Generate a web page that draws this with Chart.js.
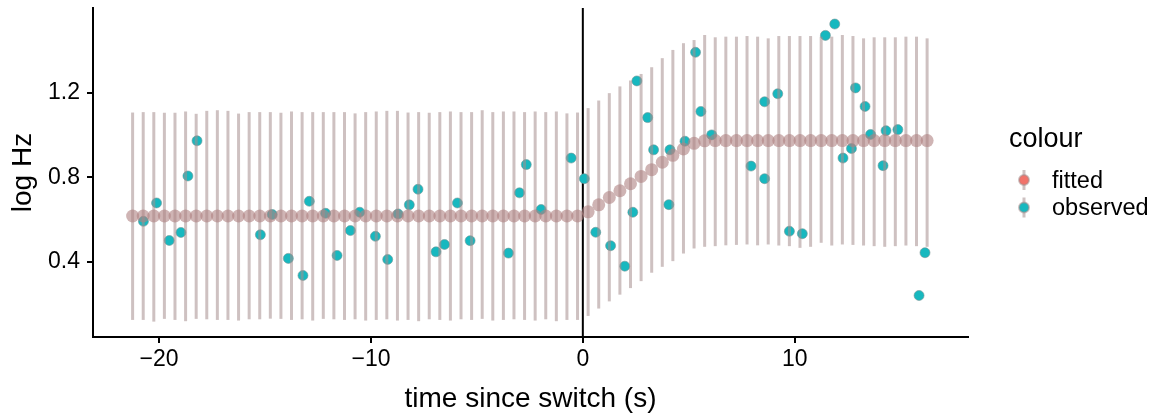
<!DOCTYPE html>
<html>
<head>
<meta charset="utf-8">
<script src="https://cdn.jsdelivr.net/npm/chart.js@4/dist/chart.umd.min.js"></script>
<style>
  html, body { margin: 0; padding: 0; background: #fff; }
  #wrap { position: relative; width: 1159px; height: 416px; }
</style>
</head>
<body>
<div id="wrap"><canvas id="switch" width="1159" height="416"></canvas></div>
<script>
// fitted model: time grid, fitted value, interval bounds
const fitT = [-21.25,-20.75,-20.25,-19.75,-19.25,-18.75,-18.25,-17.75,-17.25,-16.75,-16.25,-15.75,-15.25,-14.75,-14.25,-13.75,-13.25,-12.75,-12.25,-11.75,-11.25,-10.75,-10.25,-9.75,-9.25,-8.75,-8.25,-7.75,-7.25,-6.75,-6.25,-5.75,-5.25,-4.75,-4.25,-3.75,-3.25,-2.75,-2.25,-1.75,-1.25,-0.75,-0.25,
  0.25,0.75,1.25,1.75,2.25,2.75,3.25,3.75,4.25,4.75,5.25,5.75,
  6.25,6.75,7.25,7.75,8.25,8.75,9.25,9.75,10.25,10.75,11.25,11.75,12.25,12.75,13.25,13.75,14.25,14.75,15.25,15.75,16.25];
const fitV = [0.617,0.617,0.617,0.617,0.617,0.617,0.617,0.617,0.617,0.617,0.617,0.617,0.617,0.617,0.617,0.617,0.617,0.617,0.617,0.617,0.617,0.617,0.617,0.617,0.617,0.617,0.617,0.617,0.617,0.617,0.617,0.617,0.617,0.617,0.617,0.617,0.617,0.617,0.617,0.617,0.617,0.617,0.617,
  0.637,0.670,0.705,0.737,0.770,0.805,0.837,0.872,0.905,0.935,0.962,0.974,
  0.975,0.975,0.975,0.975,0.975,0.975,0.975,0.975,0.975,0.975,0.975,0.975,0.975,0.975,0.975,0.975,0.975,0.975,0.975,0.975,0.975];
const fitUpper = [1.108,1.110,1.110,1.107,1.107,1.113,1.102,1.116,1.119,1.116,1.103,1.110,1.110,1.110,1.107,1.113,1.110,1.110,1.110,1.110,1.110,1.104,1.110,1.113,1.116,1.116,1.108,1.110,1.107,1.110,1.113,1.110,1.110,1.119,1.110,1.113,1.113,1.110,1.113,1.110,1.113,1.104,1.108,
  1.129,1.165,1.200,1.232,1.260,1.291,1.323,1.366,1.405,1.437,1.452,1.476,
  1.465,1.468,1.468,1.471,1.468,1.460,1.471,1.471,1.471,1.471,1.468,1.468,1.476,1.471,1.460,1.465,1.465,1.465,1.468,1.468,1.460];
const fitLower = [0.124,0.124,0.116,0.129,0.124,0.118,0.129,0.127,0.124,0.124,0.121,0.127,0.127,0.130,0.129,0.124,0.127,0.121,0.129,0.127,0.124,0.127,0.121,0.124,0.127,0.121,0.124,0.118,0.127,0.124,0.121,0.127,0.124,0.129,0.121,0.124,0.127,0.124,0.121,0.127,0.118,0.124,0.124,
  0.143,0.178,0.212,0.244,0.275,0.308,0.348,0.376,0.403,0.439,0.463,0.471,
  0.474,0.478,0.480,0.482,0.478,0.482,0.477,0.474,0.466,0.471,0.490,0.477,0.482,0.480,0.477,0.474,0.471,0.474,0.477,0.474,0.471];

// observed data
const obsT = [-20.74,-20.12,-19.52,-18.97,-18.64,-18.21,-15.22,-14.66,-13.90,-13.21,-12.91,-12.14,-11.60,-10.97,-10.53,-9.79,-9.21,-8.72,-8.19,-7.78,-6.93,-6.53,-5.92,-5.32,-3.51,-2.99,-2.67,-1.97,-0.55,0.07,0.61,1.31,1.98,2.36,2.55,3.06,3.34,4.06,4.11,4.82,5.32,5.57,6.08,7.94,8.58,8.58,9.20,9.75,10.36,11.45,11.89,12.28,12.68,12.87,13.32,13.58,14.17,14.31,14.87,15.87,16.15];
const obsV = [0.592,0.679,0.501,0.539,0.807,0.974,0.528,0.624,0.416,0.335,0.687,0.630,0.430,0.548,0.635,0.521,0.411,0.627,0.670,0.744,0.447,0.482,0.679,0.500,0.441,0.727,0.861,0.648,0.892,0.794,0.540,0.476,0.379,0.635,1.258,1.084,0.931,0.671,0.931,0.972,1.394,1.113,1.002,0.854,1.159,0.794,1.197,0.545,0.533,1.474,1.528,0.892,0.937,1.225,1.137,1.004,0.856,1.022,1.027,0.240,0.443];

const xTicks = [-20, -10, 0, 10];
const yTicks = [0.4, 0.8, 1.2];
const legendTitle = 'colour';

const FONT = '"Liberation Sans", Arial, Helvetica, sans-serif';
const barColour = 'rgba(165,142,142,0.55)';
const fitColour = 'rgba(175,130,130,0.6)';
const obsColour = '#17b8bf';
const keyColours = { fitted: '#f1726a', observed: '#17b8bf' };

// vertical line at the switch
const switchLine = {
  id: 'switchLine',
  beforeDatasetsDraw(chart) {
    const { ctx, chartArea, scales } = chart;
    const x = scales.x.getPixelForValue(0);
    ctx.save();
    ctx.strokeStyle = '#000';
    ctx.lineWidth = 2;
    ctx.beginPath();
    ctx.moveTo(x, chartArea.top);
    ctx.lineTo(x, chartArea.bottom);
    ctx.stroke();
    ctx.restore();
  }
};

// interval bars drawn over the observed points, under the fitted points
const errorBars = {
  id: 'errorBars',
  afterDatasetDraw(chart, args) {
    if (args.index !== 1) return;
    const { ctx, scales } = chart;
    ctx.save();
    ctx.strokeStyle = barColour;
    ctx.lineWidth = 3;
    fitT.forEach((t, i) => {
      const x = scales.x.getPixelForValue(t);
      ctx.beginPath();
      ctx.moveTo(x, scales.y.getPixelForValue(fitLower[i]));
      ctx.lineTo(x, scales.y.getPixelForValue(fitUpper[i]));
      ctx.stroke();
    });
    ctx.restore();
  }
};

// ggplot style legend on the right
const sideLegend = {
  id: 'sideLegend',
  afterDraw(chart) {
    const { ctx } = chart;
    ctx.save();
    ctx.fillStyle = '#000';
    ctx.textBaseline = 'alphabetic';
    ctx.textAlign = 'left';
    ctx.font = '27px ' + FONT;
    ctx.fillText(legendTitle, 1009, 147);
    chart.data.datasets.forEach((ds, i) => {
      const cy = 180 + i * 27.5;
      ctx.strokeStyle = barColour;
      ctx.lineWidth = 3;
      ctx.beginPath();
      ctx.moveTo(1024, cy - 10);
      ctx.lineTo(1024, cy + 10);
      ctx.stroke();
      ctx.beginPath();
      ctx.arc(1024, cy, 5, 0, Math.PI * 2);
      ctx.fillStyle = keyColours[ds.label];
      ctx.fill();
      ctx.strokeStyle = 'rgba(165,142,142,0.55)';
      ctx.lineWidth = 2;
      ctx.stroke();
      ctx.fillStyle = '#000';
      ctx.font = '23.5px ' + FONT;
      ctx.fillText(ds.label, 1052, cy + 7.5);
    });
    ctx.restore();
  }
};

const ctx = document.getElementById('switch').getContext('2d');

new Chart(ctx, {
  type: 'scatter',
  data: {
    datasets: [
      {
        label: 'fitted',
        order: 1,
        data: fitT.map((t, i) => ({ x: t, y: fitV[i] })),
        pointRadius: 6.5,
        pointBackgroundColor: fitColour,
        pointBorderWidth: 0
      },
      {
        label: 'observed',
        order: 2,
        data: obsT.map((t, i) => ({ x: t, y: obsV[i] })),
        pointRadius: 5,
        pointBackgroundColor: obsColour,
        pointBorderColor: 'rgba(120,150,150,0.6)',
        pointBorderWidth: 1
      }
    ]
  },
  options: {
    responsive: false,
    animation: false,
    layout: { padding: { left: 0, right: 191, top: 8, bottom: 0 } },
    plugins: {
      legend: { display: false },
      tooltip: { enabled: false }
    },
    scales: {
      x: {
        type: 'linear',
        min: -23.12,
        max: 18.18,
        afterBuildTicks: (scale) => { scale.ticks = xTicks.map(v => ({ value: v })); },
        afterFit: (scale) => { scale.height = 79; scale.paddingLeft = 0; scale.paddingRight = 0; },
        border: { display: true, color: '#000', width: 2 },
        grid: { drawOnChartArea: false, drawTicks: true, tickLength: 6, color: '#000', lineWidth: 2 },
        ticks: {
          color: '#000',
          padding: 3,
          font: { family: FONT, size: 23 },
          maxRotation: 0,
          callback: (v) => v < 0 ? '\u2212' + Math.abs(v) : String(v)
        },
        title: {
          display: true,
          text: 'time since switch (s)',
          color: '#000',
          font: { family: FONT, size: 28 },
          padding: { top: 0, bottom: 0 }
        }
      },
      y: {
        type: 'linear',
        min: 0.043,
        max: 1.604,
        afterBuildTicks: (scale) => { scale.ticks = yTicks.map(v => ({ value: v })); },
        afterFit: (scale) => { scale.width = 93; scale.paddingTop = 0; scale.paddingBottom = 0; },
        border: { display: true, color: '#000', width: 2 },
        grid: { drawOnChartArea: false, drawTicks: true, tickLength: 6, color: '#000', lineWidth: 2 },
        ticks: {
          color: '#000',
          padding: 7,
          font: { family: FONT, size: 23 },
          callback: (v) => v.toFixed(1)
        },
        title: {
          display: true,
          text: 'log Hz',
          color: '#000',
          font: { family: FONT, size: 28 },
          padding: { top: 6, bottom: 0 }
        }
      }
    }
  },
  plugins: [switchLine, errorBars, sideLegend]
});
</script>
</body>
</html>
